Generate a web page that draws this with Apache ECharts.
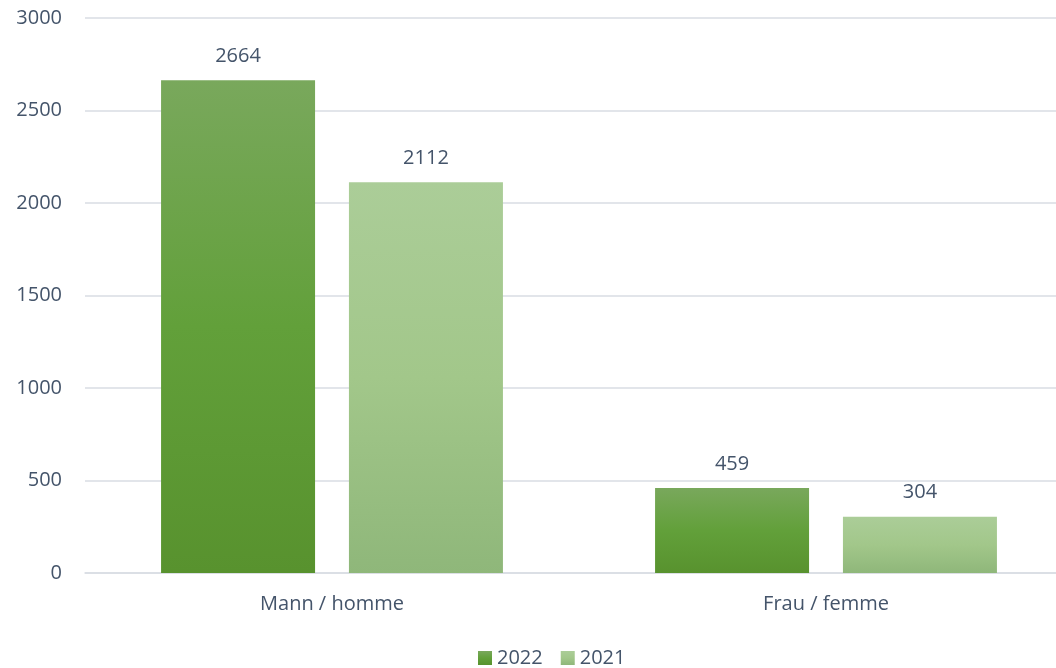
<!DOCTYPE html>
<html>
<head>
<meta charset="utf-8">
<script src="https://cdn.jsdelivr.net/npm/echarts@6/dist/echarts.min.js"></script>
<style>
    html, body { margin: 0; padding: 0; background: #fff; }
    #chart { width: 1056px; height: 668px; }
</style>
</head>
<body>
<div id="chart"></div>
<script>
var categories = ['Mann / homme', 'Frau / femme'];
var years = ['2022', '2021'];
var values2022 = [2664, 459];
var values2021 = [2112, 304];
var yTicks = { min: 0, max: 3000, interval: 500 };

var textColor = '#44546a';
var font = '"Open Sans", "Noto Sans", sans-serif';

function grad(top, mid, bottom) {
    return new echarts.graphic.LinearGradient(0, 0, 0, 1, [
        { offset: 0, color: top },
        { offset: 0.5, color: mid },
        { offset: 1, color: bottom }
    ]);
}

var chart = echarts.init(document.getElementById('chart'));
var option = {
    animation: false,
    textStyle: { fontFamily: font },
    grid: {
        left: 85,
        top: 18,
        width: 988,
        height: 555,
        outerBoundsMode: 'none'
    },
    legend: {
        top: 643,
        left: 473,
        padding: 5,
        itemWidth: 14,
        itemHeight: 14,
        itemGap: 18,
        icon: 'rect',
        textStyle: { color: textColor, fontSize: 20, fontFamily: font },
        data: years
    },
    xAxis: {
        type: 'category',
        data: categories,
        axisLine: { lineStyle: { color: '#d9dde3', width: 1.5 } },
        axisTick: { show: false },
        axisLabel: { color: textColor, fontSize: 20, margin: 21 }
    },
    yAxis: {
        type: 'value',
        min: yTicks.min,
        max: yTicks.max,
        interval: yTicks.interval,
        axisLine: { show: false },
        axisTick: { show: false },
        splitLine: { lineStyle: { color: '#d9dde3', width: 1.5 } },
        axisLabel: {
            color: textColor,
            fontSize: 20,
            margin: 23,
            formatter: function (v) { return String(v); }
        }
    },
    series: [
        {
            name: years[0],
            type: 'bar',
            data: values2022,
            barWidth: 154,
            barGap: '22%',
            itemStyle: { color: grad('#79a85c', '#62a03a', '#58922e') },
            label: { show: true, position: 'top', distance: 14, color: textColor, fontSize: 20 }
        },
        {
            name: years[1],
            type: 'bar',
            data: values2021,
            barWidth: 154,
            barGap: '22%',
            itemStyle: { color: grad('#abcd98', '#a2c78a', '#8fb77a') },
            label: { show: true, position: 'top', distance: 14, color: textColor, fontSize: 20 }
        }
    ]
};
chart.setOption(option);
window.addEventListener('resize', function () {
    chart.resize();
});
</script>
</body>
</html>
